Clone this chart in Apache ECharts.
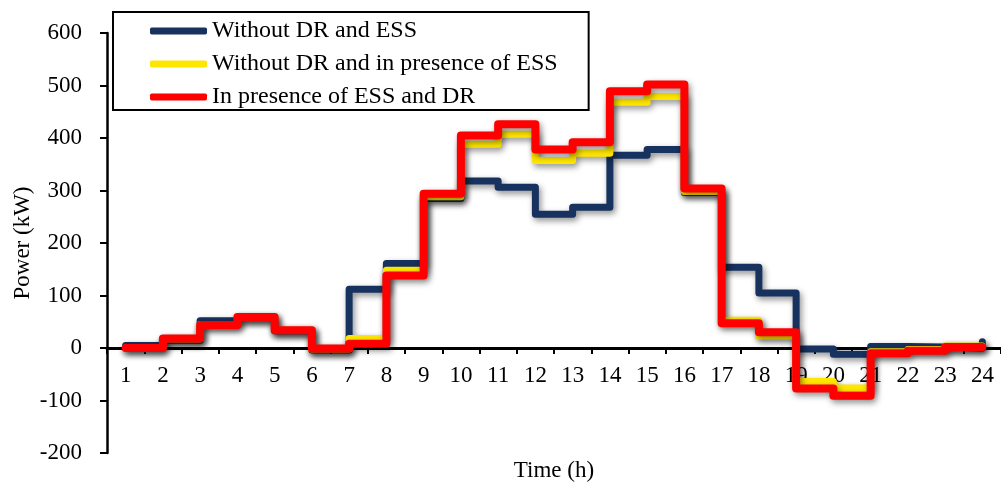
<!DOCTYPE html>
<html>
<head>
<meta charset="utf-8">
<script src="https://cdn.jsdelivr.net/npm/echarts@6/dist/echarts.min.js"></script>
<style>
  html, body { margin: 0; padding: 0; background: #fff; }
  #chart { width: 1001px; height: 486px; }
</style>
</head>
<body>
<div id="chart"></div>
<script>
const hours = ['1', '2', '3', '4', '5', '6', '7', '8', '9', '10', '11', '12',
  '13', '14', '15', '16', '17', '18', '19', '20', '21', '22', '23', '24']

// Power (kW) per hour
const withoutDrEss = [5, 15, 52, 58, 33, -4, 112, 161, 285, 318, 306, 255,
  268, 367, 378, 296, 154, 105, -2, -12, 3, 2, 0, 12]
const withoutDrWithEss = [0, 17, 45, 58, 34, -2, 18, 148, 288, 388, 407, 357,
  371, 468, 479, 298, 53, 23, -64, -76, -7, -3, 4, 5]
const withEssDr = [0, 18, 44, 59, 34, -1, 8, 138, 294, 405, 426, 378,
  392, 489, 502, 304, 47, 30, -77, -91, -10, -5, 2, 3]

const seriesNames = ['Without DR and ESS', 'Without DR and in presence of ESS', 'In presence of ESS and DR']
const seriesColors = ['#17325f', '#ffe600', '#ff0000']

const font = '"Liberation Serif", "Times New Roman", serif'

const chart = echarts.init(document.getElementById('chart'))

// lines sit on their own layer so they pass over the hour labels
const makeSeries = (name, data, color, width) => ({
  name,
  type: 'line',
  step: 'end',
  data,
  symbol: 'none',
  color,
  zlevel: 1,
  lineStyle: {
    color,
    width,
    cap: 'round',
    join: 'round',
    shadowColor: 'rgba(0, 0, 0, 0.45)',
    shadowBlur: 6,
    shadowOffsetX: 2,
    shadowOffsetY: 3
  }
})

chart.setOption({
  animation: false,
  backgroundColor: '#fff',
  grid: {
    left: 107,
    right: 0,
    top: 33,
    bottom: 33,
    containLabel: false,
    outerBoundsMode: 'none'
  },
  legend: {
    orient: 'vertical',
    left: 113,
    top: 12,
    zlevel: 2,
    data: seriesNames.map(n => ({ name: n, icon: 'roundRect' })),
    itemWidth: 57,
    itemHeight: 7,
    itemGap: 9,
    padding: [7, 31, 1, 37],
    borderColor: '#000',
    borderWidth: 2,
    backgroundColor: '#fff',
    selectedMode: false,
    textStyle: {
      fontFamily: font,
      fontSize: 24,
      lineHeight: 24,
      color: '#000'
    }
  },
  xAxis: {
    type: 'category',
    data: hours,
    // the zero line sits 105px above the bottom of the grid
    offset: -105,
    name: 'Time (h)',
    nameLocation: 'middle',
    nameGap: 111,
    nameMoveOverlap: false,
    nameTextStyle: {
      fontFamily: font,
      fontSize: 23,
      color: '#000'
    },
    axisLine: {
      onZero: false,
      lineStyle: { color: '#000', width: 3 }
    },
    axisTick: {
      show: true,
      length: 6,
      lineStyle: { color: '#000', width: 2 }
    },
    axisLabel: {
      fontFamily: font,
      fontSize: 23,
      color: '#000',
      margin: 16
    },
    splitLine: { show: false }
  },
  yAxis: {
    type: 'value',
    min: -200,
    max: 600,
    interval: 100,
    name: 'Power (kW)',
    nameLocation: 'middle',
    nameGap: 73,
    nameMoveOverlap: false,
    nameTextStyle: {
      fontFamily: font,
      fontSize: 23,
      color: '#000'
    },
    axisLine: {
      show: true,
      lineStyle: { color: '#000', width: 2.5 }
    },
    axisTick: {
      show: true,
      length: 7,
      lineStyle: { color: '#000', width: 2 }
    },
    axisLabel: {
      fontFamily: font,
      fontSize: 23,
      color: '#000',
      margin: 25
    },
    splitLine: { show: false }
  },
  series: [
    makeSeries(seriesNames[0], withoutDrEss, seriesColors[0], 7),
    makeSeries(seriesNames[1], withoutDrWithEss, seriesColors[1], 7),
    makeSeries(seriesNames[2], withEssDr, seriesColors[2], 8)
  ]
})
</script>
</body>
</html>
